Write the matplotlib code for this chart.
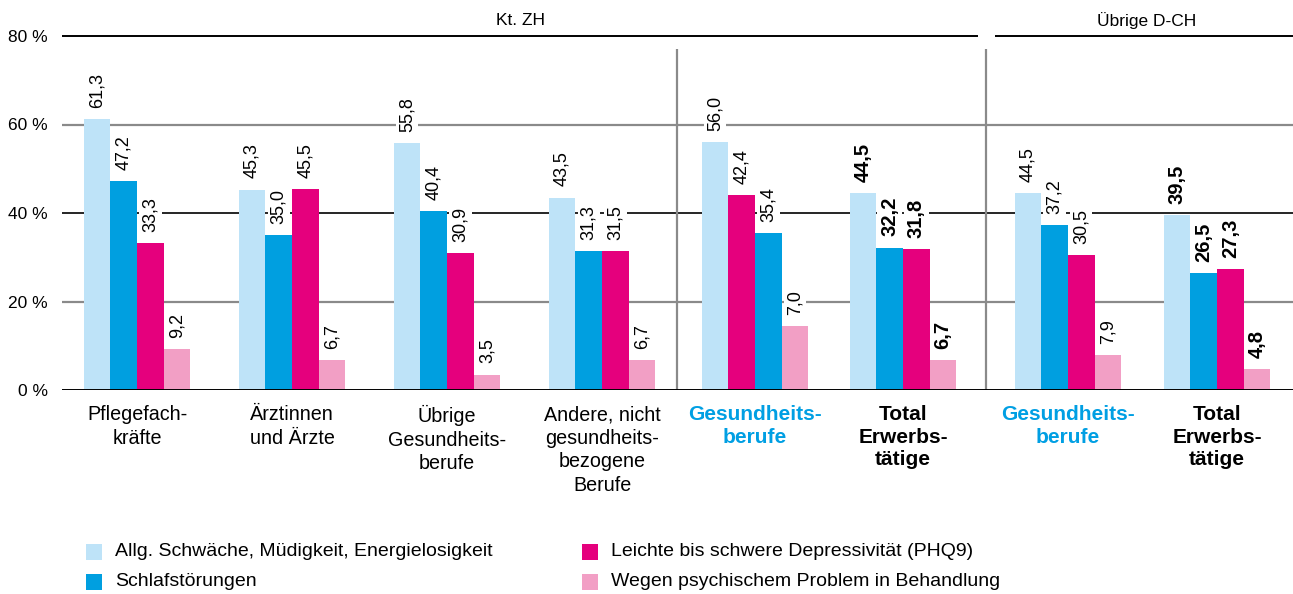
import numpy as np
import matplotlib
matplotlib.use("Agg")
import matplotlib.pyplot as plt
from matplotlib.patches import Rectangle

plt.rcParams['font.family'] = ['Liberation Sans', 'DejaVu Sans']

# --- Daten ---
kategorien = ["Pflegefach-\nkräfte", "Ärztinnen\nund Ärzte", "Übrige\nGesundheits-\nberufe",
              "Andere, nicht\ngesundheits-\nbezogene\nBerufe", "Gesundheits-\nberufe",
              "Total\nErwerbs-\ntätige", "Gesundheits-\nberufe", "Total\nErwerbs-\ntätige"]
kat_farbe = ["black", "black", "black", "black", "#009FE3", "black", "#009FE3", "black"]
kat_fett = [False, False, False, False, True, True, True, True]
wert_fett = [False, False, False, False, False, True, False, True]

serien = ["Allg. Schwäche, Müdigkeit, Energielosigkeit", "Schlafstörungen",
          "Leichte bis schwere Depressivität (PHQ9)", "Wegen psychischem Problem in Behandlung"]
farben = ["#BEE3F8", "#009FE0", "#E5007D", "#F29FC5"]

schwaeche = [61.3, 45.3, 55.8, 43.5, 56.0, 44.5, 44.5, 39.5]
schlaf = [47.2, 35.0, 40.4, 31.3, 35.4, 32.2, 37.2, 26.5]
depress = [33.3, 45.5, 30.9, 31.5, 44.1, 31.8, 30.5, 27.3]
behandlung = [9.2, 6.7, 3.5, 6.7, 14.5, 6.7, 7.9, 4.8]

# Beschriftungen wie im Original gedruckt
lab_schwaeche = ["61,3", "45,3", "55,8", "43,5", "56,0", "44,5", "44,5", "39,5"]
lab_schlaf = ["47,2", "35,0", "40,4", "31,3", "35,4", "32,2", "37,2", "26,5"]
lab_depress = ["33,3", "45,5", "30,9", "31,5", "42,4", "31,8", "30,5", "27,3"]
lab_behandlung = ["9,2", "6,7", "3,5", "6,7", "7,0", "6,7", "7,9", "4,8"]

# Reihenfolge der Balken pro Gruppe (Slot je Serie)
slot_order = [[0, 1, 2, 3]] * 4 + [[0, 2, 1, 3]] + [[0, 1, 2, 3]] * 3

werte = [schwaeche, schlaf, depress, behandlung]
labels = [lab_schwaeche, lab_schlaf, lab_depress, lab_behandlung]

# --- Layout ---
gruppen_x = [0, 1, 2, 3, 3.987, 4.942, 6.006, 6.968]
breite = 0.1716

fig = plt.figure(figsize=(12.93, 5.94), dpi=100)
ax = fig.add_axes([62 / 1293, 204 / 594, 1231 / 1293, 354 / 594])
ax.set_xlim(-0.484, 7.458)
ax.set_ylim(0, 80)

for s in ax.spines.values():
    s.set_visible(False)

# Gitterlinien
grau = "#8a8a8a"
ax.axhline(20, color=grau, lw=1.6, zorder=0)
ax.axhline(60, color=grau, lw=1.6, zorder=0)
ax.axhline(40, color="black", lw=1.2, zorder=0)
ax.axhline(0, color="black", lw=1.4, zorder=4)
ax.hlines(80, -0.484, 5.426, color="black", lw=1.4, clip_on=False)
ax.hlines(80, 5.535, 7.458, color="black", lw=1.4, clip_on=False)
ax.vlines([3.484, 5.477], 0, 77.1, color=grau, lw=1.6, zorder=0)

for g, gx in enumerate(gruppen_x):
    for si in range(4):
        slot = slot_order[g][si]
        x = gx + (slot - 1.5) * breite
        v = werte[si][g]
        ax.bar(x, v, width=breite, color=farben[si], zorder=2, linewidth=0)
        fett = wert_fett[g]
        ax.annotate(labels[si][g], (x, v), xytext=(0, 8), textcoords="offset points",
                    rotation=90, ha="center", va="bottom",
                    fontsize=14.5 if fett else 13,
                    fontweight="bold" if fett else "normal",
                    bbox=dict(boxstyle="square,pad=0.15", fc="white", ec="none"),
                    zorder=3)

# Achsen
ax.set_yticks([0, 20, 40, 60, 80])
ax.set_yticklabels(["0 %", "20 %", "40 %", "60 %", "80 %"], fontsize=12.5)
ax.tick_params(axis="y", length=0, pad=10)
ax.set_xticks(gruppen_x)
ax.set_xticklabels(kategorien, fontsize=14.2, linespacing=1.3)
ax.tick_params(axis="x", length=0, pad=11)
for t, c, b in zip(ax.get_xticklabels(), kat_farbe, kat_fett):
    t.set_color(c)
    if b:
        t.set_fontweight("bold")
        t.set_fontsize(15)
        t.set_linespacing(1.22)

# Kopfzeilen
ax.text(2.477, 83.6, "Kt. ZH", ha="center", va="center", fontsize=12.5, clip_on=False)
ax.text(6.516, 83.6, "Übrige D-CH", ha="center", va="center", fontsize=12.5, clip_on=False)

# Legende
leg_pos = [(86, 552), (86, 582), (582, 552), (582, 582)]
for (px, py), name, f in zip(leg_pos, serien, farben):
    fig.add_artist(Rectangle((px / 1293, (594 - py - 8) / 594), 16 / 1293, 16 / 594,
                             transform=fig.transFigure, color=f, lw=0))
    fig.text((px + 29) / 1293, (594 - py) / 594, name, ha="left", va="center", fontsize=14)

fig.savefig("out.png", dpi=100)
